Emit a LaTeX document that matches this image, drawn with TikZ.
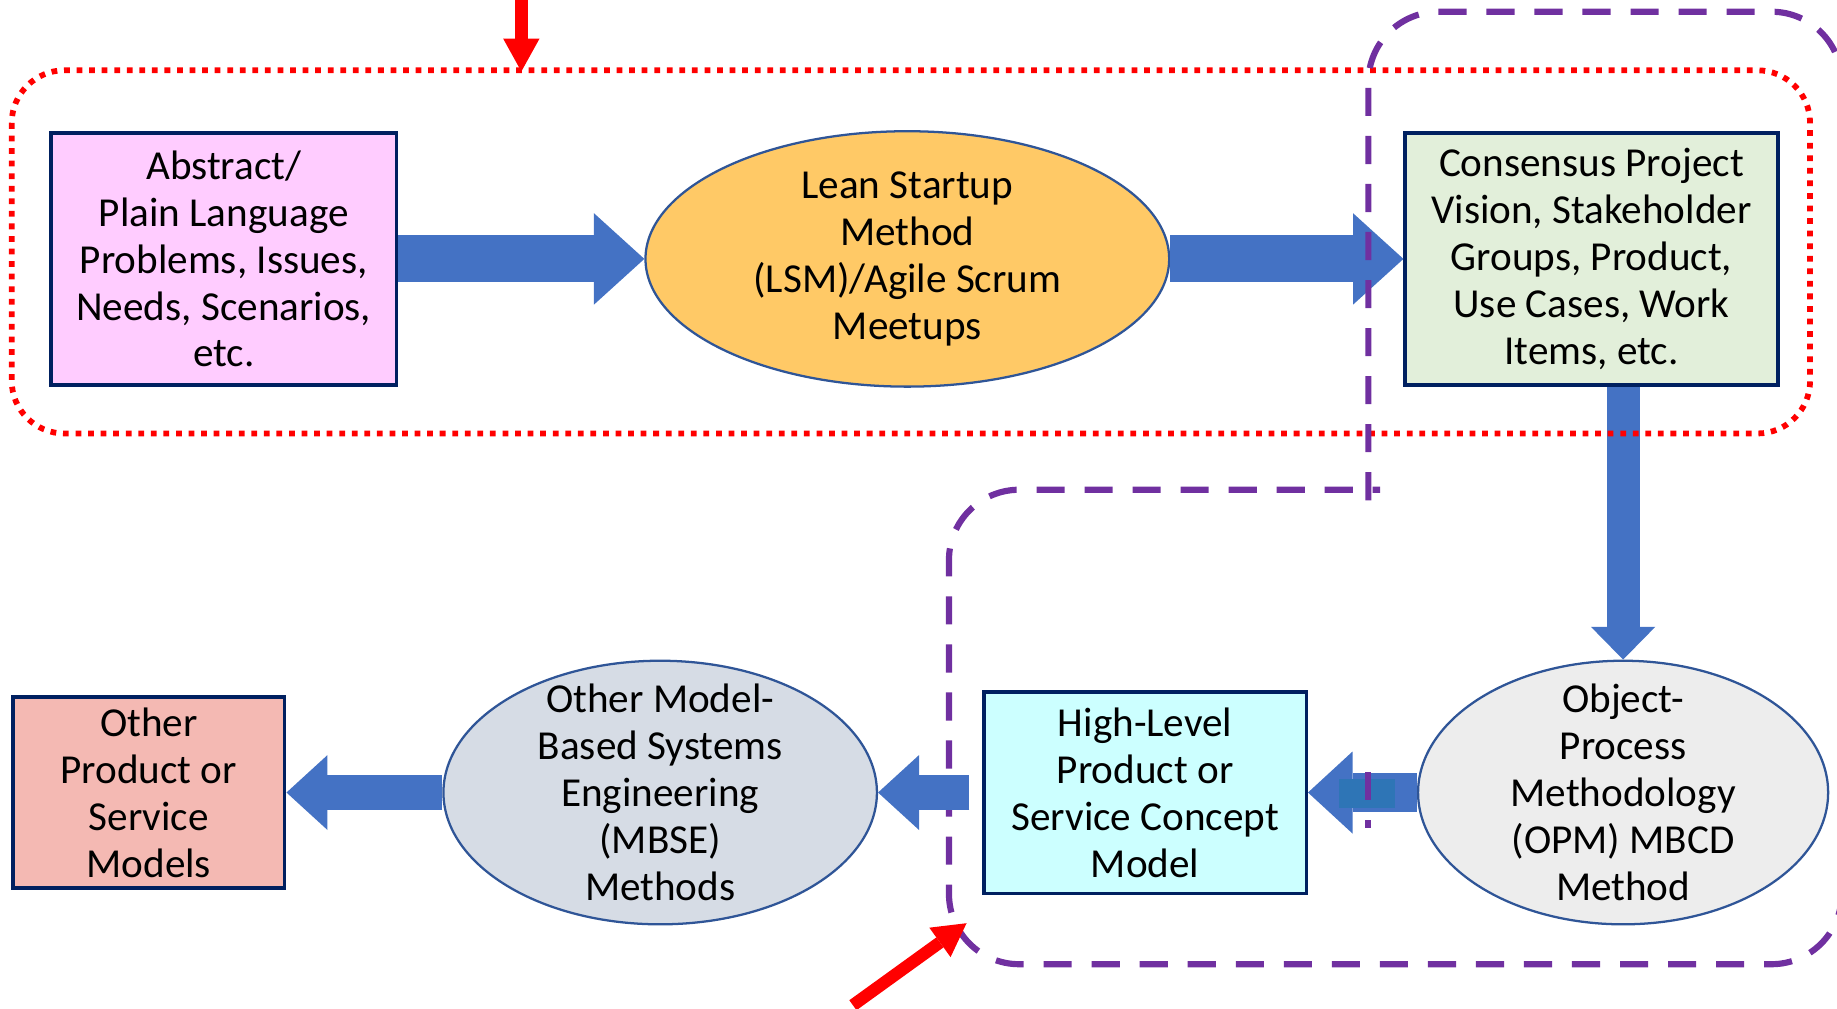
\documentclass[tikz,border=0pt]{standalone}
\usepackage{fontspec}
\setmainfont{Carlito}
\usepackage{tikz}
\usetikzlibrary{arrows.meta, positioning, shapes.geometric}
\definecolor{navy}{HTML}{002060}
\definecolor{ovalline}{HTML}{2F5597}
\definecolor{arrblue}{HTML}{4472C4}
\definecolor{tealpatch}{HTML}{2E75B6}
\definecolor{pinkbg}{HTML}{FFCCFF}
\definecolor{leanbg}{HTML}{FFC966}
\definecolor{greenbg}{HTML}{E2EFDA}
\definecolor{cyanbg}{HTML}{CCFFFF}
\definecolor{slatebg}{HTML}{D6DCE5}
\definecolor{greybg}{HTML}{EDEDED}
\definecolor{salmonbg}{HTML}{F4B9B3}
\definecolor{grpred}{HTML}{FF0000}
\definecolor{grppurple}{HTML}{7030A0}

\begin{document}
\begin{tikzpicture}[
  font=\fontsize{20}{22.8}\selectfont,
  box/.style={draw=navy, line width=1.7pt, align=center, inner sep=2pt},
  oval/.style={ellipse, draw=ovalline, line width=1.1pt, inner sep=0pt},
  txt/.style={align=center, inner sep=0pt},
  barr/.style={-{Triangle[length=0.86cm, width=1.56cm, line width=0pt]},
               line width=0.8cm, draw=arrblue},
  vbarr/.style={-{Triangle[length=0.56cm, width=1.1cm, line width=0pt]},
                line width=0.56cm, draw=arrblue},
  sbarr/.style={-{Triangle[length=0.76cm, width=1.4cm, line width=0pt]},
                line width=0.68cm, draw=arrblue},
  tbarr/.style={-{Triangle[length=0.7cm, width=1.28cm, line width=0pt]},
                line width=0.6cm, draw=arrblue},
  rarr/.style={-{Triangle[length=0.56cm, width=0.62cm, line width=0pt]},
               line width=0.21cm, draw=grpred},
  reddot/.style={draw=grpred, line width=2.8pt, dash pattern=on 2.8pt off 3.3pt,
                 rounded corners=0.9cm},
  purpdash/.style={draw=grppurple, line width=3pt,
                   dash pattern=on 0.48cm off 0.34cm}
]
  \useasboundingbox (0,0) rectangle (31.36,-17.22);

  % Top row
  \node[box, fill=pinkbg, minimum width=5.9cm, minimum height=4.3cm]
    (abst) at (3.82,-4.42) {Abstract/\\Plain Language\\Problems, Issues,\\Needs, Scenarios,\\etc.};
  \node[oval, fill=leanbg, minimum width=8.94cm, minimum height=4.36cm,
    right=4.2cm of abst,
    label={[txt]center:Lean Startup\\Method\\(LSM)/Agile Scrum\\Meetups}] (lean) {};
  \node[box, fill=greenbg, minimum width=6.36cm, minimum height=4.3cm,
    right=3.98cm of lean]
    (cons) {Consensus Project\\Vision, Stakeholder\\Groups, Product,\\Use Cases, Work\\Items, etc.};

  % Bottom row
  \node[oval, fill=greybg, minimum width=7cm, minimum height=4.5cm,
    below=4.66cm of cons, xshift=0.54cm,
    label={[txt]center:Object-\\Process\\Methodology\\(OPM) MBCD\\Method}] (opm) {};
  \node[box, fill=cyanbg, minimum width=5.5cm, minimum height=3.44cm,
    left=1.86cm of opm] (hl) {High-Level\\Product or\\Service Concept\\Model};
  \node[oval, fill=slatebg, minimum width=7.4cm, minimum height=4.5cm,
    left=1.78cm of hl,
    label={[txt]center:Other Model-\\Based Systems\\Engineering\\(MBSE)\\Methods}] (mbse) {};
  \node[box, fill=salmonbg, minimum width=4.64cm, minimum height=3.26cm,
    left=2.66cm of mbse] (oth) {Other\\Product or\\Service\\Models};

  \draw[barr] (abst.east) -- (lean.west);
  \draw[barr] (lean.east) -- (cons.west);
  \draw[vbarr] (cons.south -| opm.north) -- (opm.north);
  \draw[sbarr] (opm.west) -- (hl.east);
  \fill[tealpatch] (22.86,-13.3) rectangle (23.82,-13.8);
  \draw[tbarr] (mbse.west) -- (oth.east);

  % groups
  \draw[reddot] (0.2,-1.2) rectangle (30.9,-7.4);
  \draw[purpdash, rounded corners=1.2cm] (23.36,-8.54) -- (23.36,-0.2) -- (31.44,-0.2)
    -- (31.44,-16.46) -- (16.2,-16.46) -- (16.2,-8.36) -- (23.56,-8.36);
  \draw[purpdash] (23.36,-13.18) -- (23.36,-14.14);

  \draw[tbarr] ([xshift=-0.22cm]hl.west) -- (mbse.east);

  % pointers
  \coordinate (topin) at (8.9,0);
  \coordinate (topend) at (8.9,-1.22);
  \coordinate (botin) at (14.56,-17.16);
  \coordinate (botend) at (16.5,-15.76);
  \draw[rarr] (topin) -- (topend);
  \draw[rarr] (botin) -- (botend);
\end{tikzpicture}
\end{document}
